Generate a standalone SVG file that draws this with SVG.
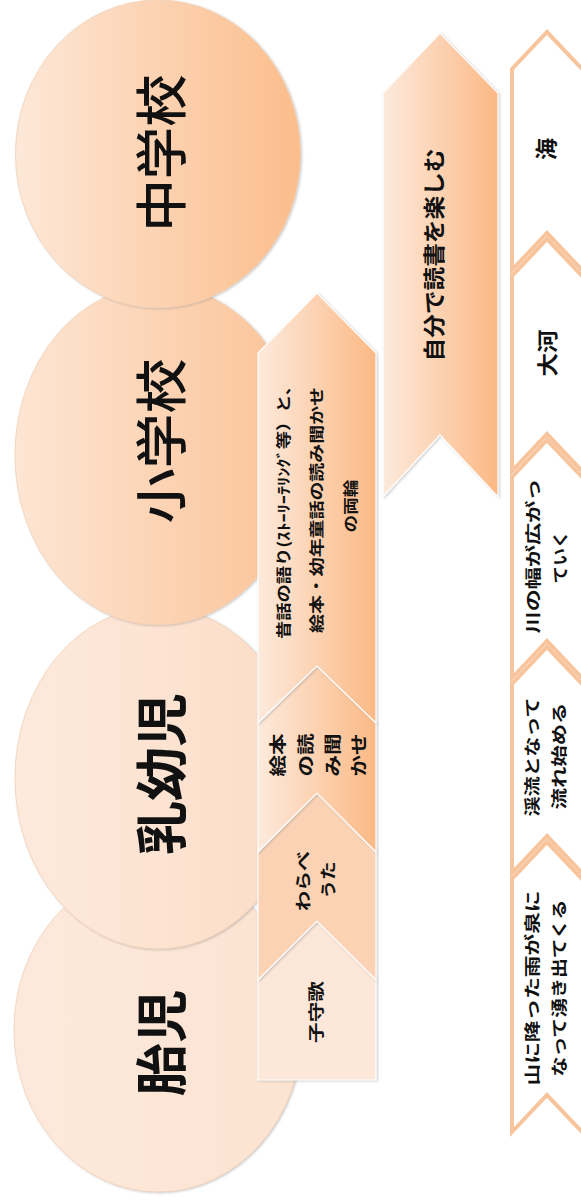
<svg xmlns="http://www.w3.org/2000/svg" width="581" height="1202" viewBox="0 0 581 1202">
<style>
  .t { font-family: "Noto Sans CJK JP", "Noto Sans CJK SC", sans-serif; fill: #111; text-anchor: middle; dominant-baseline: central; }
  .big { font-size: 52px; }
  .b { font-weight: 700; }
  .m { font-weight: 500; }
  .s15 { font-size: 15px; font-weight: 700; }
  .s16 { font-size: 16px; font-weight: 700; }
  .s17 { font-size: 17px; font-weight: 700; }
  .s21 { font-size: 21px; font-weight: 700; }
  .s22 { font-size: 22px; font-weight: 700; }
  .arrow { stroke: #ffffff; stroke-width: 1.2; filter: url(#sh); }
  .river { fill: #ffffff; stroke: #f7c49c; stroke-width: 4; stroke-linejoin: miter; }
  .circ { filter: url(#sh); stroke: #f3d2b8; stroke-width: 0.8; }
</style>
<defs>
  <linearGradient id="gC1" x1="0" y1="0" x2="1" y2="0">
    <stop offset="0" stop-color="#fde8d8"/><stop offset="1" stop-color="#fbbd8b"/>
  </linearGradient>
  <linearGradient id="gC2" x1="0" y1="0" x2="1" y2="0">
    <stop offset="0" stop-color="#fde6d4"/><stop offset="1" stop-color="#fbc296"/>
  </linearGradient>
  <linearGradient id="gC3" x1="0" y1="0" x2="1" y2="0">
    <stop offset="0" stop-color="#fdeadd"/><stop offset="1" stop-color="#fcdcc6"/>
  </linearGradient>
  <linearGradient id="gC4" x1="0" y1="0" x2="1" y2="0">
    <stop offset="0" stop-color="#fde9dc"/><stop offset="1" stop-color="#fce3d1"/>
  </linearGradient>
  <linearGradient id="gA" x1="0" y1="0" x2="1" y2="0">
    <stop offset="0" stop-color="#fdeadc"/><stop offset="1" stop-color="#fbb985"/>
  </linearGradient>
  <filter id="sh" x="-10%" y="-10%" width="120%" height="120%">
    <feDropShadow dx="1.2" dy="0.8" stdDeviation="1" flood-color="#8a8a8a" flood-opacity="0.45"/>
  </filter>
</defs>

<!-- stage circles -->
<g id="stage-taiji">
  <ellipse class="circ" cx="158" cy="1030" rx="144" ry="162" fill="url(#gC4)"/>
  <text class="t big b" transform="translate(158,1043) rotate(-90)" textLength="107" lengthAdjust="spacingAndGlyphs">胎児</text>
</g>
<g id="stage-nyuyoji">
  <ellipse class="circ" cx="158" cy="778" rx="143" ry="171" fill="url(#gC3)"/>
  <text class="t big b" transform="translate(158,774) rotate(-90)" textLength="162" lengthAdjust="spacingAndGlyphs">乳幼児</text>
</g>
<g id="stage-shogakko">
  <ellipse class="circ" cx="158" cy="455" rx="143" ry="170" fill="url(#gC2)"/>
  <text class="t big m" transform="translate(158,441) rotate(-90)" textLength="165" lengthAdjust="spacingAndGlyphs">小学校</text>
</g>
<g id="stage-chugakko">
  <ellipse class="circ" cx="158" cy="154" rx="142.5" ry="154" fill="url(#gC1)"/>
  <text class="t big m" transform="translate(158,153) rotate(-90)" textLength="157" lengthAdjust="spacingAndGlyphs">中学校</text>
</g>

<!-- column 1: reading activities -->
<g id="komoriuta">
  <polygon class="arrow" points="258,1080 376,1080 376,980 317,921 258,980" fill="#fde7d8"/>
  <text class="t s16" transform="translate(315,1012) rotate(-90)" textLength="62" lengthAdjust="spacingAndGlyphs">子守歌</text>
</g>
<g id="warabeuta">
  <polygon class="arrow" points="258,980 317,921 376,980 376,852 317,793 258,852" fill="#fbd3b4"/>
  <text class="t s16" transform="translate(302,881) rotate(-90)" textLength="60" lengthAdjust="spacingAndGlyphs">わらべ</text>
  <text class="t s16" transform="translate(327,880) rotate(-90)" textLength="37" lengthAdjust="spacingAndGlyphs">うた</text>
</g>
<g id="ehon-yomikikase">
  <polygon class="arrow" points="258,852 317,793 376,852 376,723 317,666 258,723" fill="url(#gA)"/>
  <text class="t s17" transform="translate(276,755) rotate(-90)" textLength="43" lengthAdjust="spacingAndGlyphs">絵本</text>
  <text class="t s17" transform="translate(304,755) rotate(-90)" textLength="43" lengthAdjust="spacingAndGlyphs">の読</text>
  <text class="t s17" transform="translate(331,755) rotate(-90)" textLength="43" lengthAdjust="spacingAndGlyphs">み聞</text>
  <text class="t s17" transform="translate(357,755) rotate(-90)" textLength="43" lengthAdjust="spacingAndGlyphs">かせ</text>
</g>
<g id="mukashibanashi">
  <polygon class="arrow" points="258,723 317,666 376,723 376,353 317,293 258,353" fill="url(#gA)"/>
  <text class="t s15" transform="translate(282,508) rotate(-90)" textLength="262" lengthAdjust="spacingAndGlyphs">昔話の語り(ｽﾄｰﾘｰﾃﾘﾝｸﾞ等）と、</text>
  <text class="t s15" transform="translate(315,510) rotate(-90)" textLength="246" lengthAdjust="spacingAndGlyphs">絵本・幼年童話の読み聞かせ</text>
  <text class="t s15" transform="translate(349,506) rotate(-90)" textLength="53" lengthAdjust="spacingAndGlyphs">の両輪</text>
</g>

<!-- column 2 -->
<g id="jibun-dokusho">
  <polygon class="arrow" points="383,497 440,435 498,497 498,93 440,33 383,93" fill="url(#gA)"/>
  <text class="t s22" transform="translate(432,255) rotate(-90)" textLength="213" lengthAdjust="spacingAndGlyphs">自分で読書を楽しむ</text>
</g>

<!-- column 3: river metaphor -->
<g id="river-yama">
  <polygon class="river" points="512,1132 547,1095 584,1134 584,881 547,842 512,879"/>
  <text class="t s16" transform="translate(531,988) rotate(-90)" textLength="195" lengthAdjust="spacingAndGlyphs">山に降った雨が泉に</text>
  <text class="t s16" transform="translate(558,988) rotate(-90)" textLength="177" lengthAdjust="spacingAndGlyphs">なって湧き出てくる</text>
</g>
<g id="river-keiryu">
  <polygon class="river" points="512,873 547,836 584,875 584,686 547,647 512,684"/>
  <text class="t s16" transform="translate(531,757) rotate(-90)" textLength="119" lengthAdjust="spacingAndGlyphs">渓流となって</text>
  <text class="t s16" transform="translate(558,756) rotate(-90)" textLength="107" lengthAdjust="spacingAndGlyphs">流れ始める</text>
</g>
<g id="river-haba">
  <polygon class="river" points="512,678 547,641 584,680 584,479 547,440 512,477"/>
  <text class="t s16" transform="translate(532,556) rotate(-90)" textLength="155" lengthAdjust="spacingAndGlyphs">川の幅が広がっ</text>
  <text class="t s16" transform="translate(559,557) rotate(-90)" textLength="53" lengthAdjust="spacingAndGlyphs">ていく</text>
</g>
<g id="river-taiga">
  <polygon class="river" points="512,471 547,434 584,473 584,278 547,239 512,276"/>
  <text class="t s21" transform="translate(546,353) rotate(-90)" textLength="47" lengthAdjust="spacingAndGlyphs">大河</text>
</g>
<g id="river-umi">
  <polygon class="river" points="512,270 547,233 584,272 584,71 547,32 512,69"/>
  <text class="t s22" transform="translate(544,149) rotate(-90)">海</text>
</g>

<g id="connectors"></g>
</svg>
